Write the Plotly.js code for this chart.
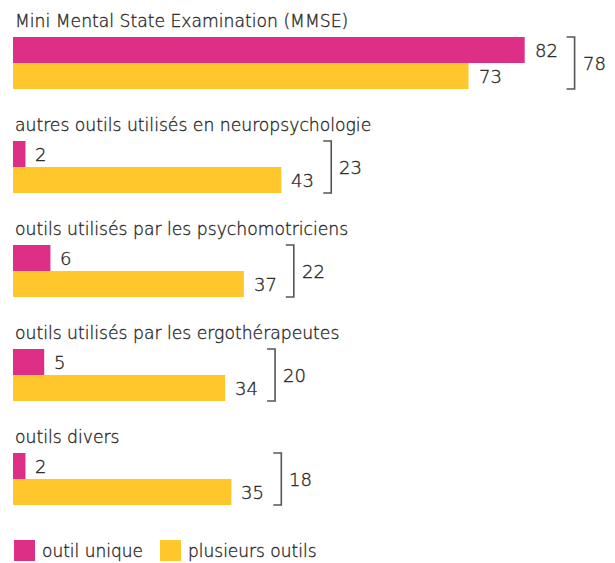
<!DOCTYPE html>
<html>
<head>
<meta charset="utf-8">
<script src="https://cdn.plot.ly/plotly-3.0.1.min.js"></script>
<style>
html,body{margin:0;padding:0;background:#fff;}
#chart{width:615px;height:563px;}
#chart .annotation-text{stroke:#2a2a2a;stroke-width:0.35px;}
</style>
</head>
<body>
<div id="chart"></div>
<script>
var categories = [
  "Mini Mental State Examination (MMSE)",
  "autres outils utilisés en neuropsychologie",
  "outils utilisés par les psychomotriciens",
  "outils utilisés par les ergothérapeutes",
  "outils divers"
];
var outilUnique = [82, 2, 6, 5, 2];
var plusieursOutils = [73, 43, 37, 34, 35];
var totals = [78, 23, 22, 20, 18];
var seriesNames = ["outil unique", "plusieurs outils"];
var seriesColors = ["#DD2F86", "#FFC72C"];

var W = 615, H = 563;
var ML = 13;
var unitPx = 26;           // one bar height in px
var xPxPerUnit = 6.24;
var textColor = "#1e1e1e";
var fontFam = "'DejaVu Sans', sans-serif";

var yPink = categories.map(function (c, i) { return 50 / unitPx + 4 * i; });
var yYellow = yPink.map(function (v) { return v + 1; });
var yLabel = yPink.map(function (v) { return v - 1.12; });

var traces = [
  {type: "bar", orientation: "h", name: seriesNames[0], x: outilUnique, y: yPink,
   width: 1, marker: {color: seriesColors[0]}, hoverinfo: "x", showlegend: false},
  {type: "bar", orientation: "h", name: seriesNames[1], x: plusieursOutils, y: yYellow,
   width: 1, marker: {color: seriesColors[1]}, hoverinfo: "x", showlegend: false}
];

var annotations = [];
var shapes = [];
var tick = 8 / xPxPerUnit;
var labFont = {family: fontFam, size: 17.2, color: textColor, weight: 200};
var numFont = {family: fontFam, size: 18, color: textColor, weight: 200};
categories.forEach(function (c, i) {
  annotations.push({x: 0, y: yLabel[i], xref: "x", yref: "y", text: c, showarrow: false,
    xanchor: "left", yanchor: "middle", xshift: 0, font: labFont});
  annotations.push({x: outilUnique[i], y: yPink[i], xref: "x", yref: "y", text: String(outilUnique[i]),
    showarrow: false, xanchor: "left", yanchor: "middle", xshift: 8, font: numFont});
  annotations.push({x: plusieursOutils[i], y: yYellow[i], xref: "x", yref: "y", text: String(plusieursOutils[i]),
    showarrow: false, xanchor: "left", yanchor: "middle", xshift: 8, font: numFont});
  var bx = Math.max(outilUnique[i], plusieursOutils[i]) + 8;
  var top = yPink[i] - 0.5, bot = yYellow[i] + 0.5;
  shapes.push({type: "path", xref: "x", yref: "y",
    path: "M" + (bx - tick) + "," + top + " L" + bx + "," + top + " L" + bx + "," + bot + " L" + (bx - tick) + "," + bot,
    line: {color: "#555555", width: 1.6}});
  annotations.push({x: bx, y: (yPink[i] + yYellow[i]) / 2, xref: "x", yref: "y", text: String(totals[i]),
    showarrow: false, xanchor: "left", yanchor: "middle", xshift: 6, font: numFont});
});

// manual legend
var legY = 1 - 550.5 / H;
var legX = [(14 - ML) / (W - ML), (160 - ML) / (W - ML)];
seriesNames.forEach(function (n, k) {
  shapes.push({type: "rect", xref: "paper", yref: "paper", xsizemode: "pixel", ysizemode: "pixel",
    xanchor: legX[k], yanchor: legY, x0: 0, x1: 21, y0: -10.5, y1: 10.5,
    fillcolor: seriesColors[k], line: {width: 0}});
  annotations.push({x: legX[k], y: legY, xref: "paper", yref: "paper", text: n, showarrow: false,
    xanchor: "left", yanchor: "middle", xshift: 26, font: {family: fontFam, size: 17, color: textColor, weight: 200}});
});

var layout = {
  width: W, height: H,
  margin: {l: ML, r: 0, t: 0, b: 0, pad: 0},
  paper_bgcolor: "#ffffff", plot_bgcolor: "#ffffff",
  showlegend: false,
  barmode: "overlay",
  xaxis: {range: [0, (W - ML) / xPxPerUnit], visible: false, fixedrange: true},
  yaxis: {range: [H / unitPx, 0], visible: false, fixedrange: true},
  annotations: annotations,
  shapes: shapes
};

Plotly.newPlot("chart", traces, layout, {displayModeBar: false, staticPlot: true});
</script>
</body>
</html>
